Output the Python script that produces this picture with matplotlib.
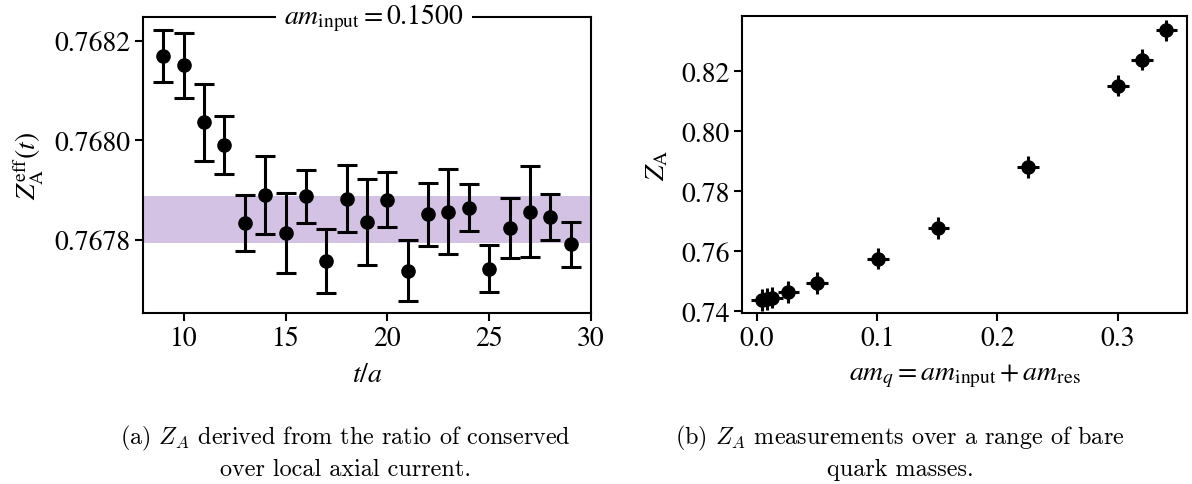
import numpy as np
import matplotlib
matplotlib.use("Agg")
from matplotlib import pyplot as plt

plt.rcParams['font.family'] = ['STIXGeneral', 'DejaVu Sans']
plt.rcParams['mathtext.fontset'] = 'stix'

# (a) effective Z_A vs t/a
t_vals = [9, 10, 11, 12, 13, 14, 15, 16, 17, 18, 19, 20, 21, 22, 23, 24, 25, 26, 27, 28, 29]
z_eff = [0.768169, 0.768151, 0.768036, 0.767991, 0.767834, 0.767890, 0.767814,
         0.767888, 0.767757, 0.767883, 0.767836, 0.767881, 0.767738, 0.767851,
         0.767857, 0.767865, 0.767742, 0.767824, 0.767857, 0.767846, 0.767791]
z_eff_err = [0.0000520, 0.0000657, 0.0000771, 0.0000579, 0.0000556, 0.0000785,
             0.0000801, 0.0000532, 0.0000646, 0.0000673, 0.0000859, 0.0000545,
             0.0000613, 0.0000636, 0.0000862, 0.0000478, 0.0000475, 0.0000609,
             0.0000912, 0.0000468, 0.0000448]
fit_band = (0.767794, 0.767889)

# (b) Z_A vs quark mass
am_q = [0.004, 0.0085, 0.0125, 0.026, 0.05, 0.1006, 0.151, 0.2256, 0.3003, 0.3203, 0.3406]
z_a = [0.7438, 0.7442, 0.7446, 0.74637, 0.74950, 0.75754, 0.76782, 0.78804,
       0.81520, 0.82391, 0.83363]
am_q_err = 0.0089
z_a_err = 0.0036

fig = plt.figure(figsize=(11.92, 4.85), dpi=100)
ax1 = fig.add_axes([0.120, 0.3526, 0.3758, 0.6103])
ax2 = fig.add_axes([0.6225, 0.3526, 0.3733, 0.6124])

ax1.axhspan(fit_band[0], fit_band[1], color='tab:purple', alpha=0.4, lw=0)
ax1.errorbar(t_vals, z_eff, yerr=z_eff_err, fmt='o', color='k', ms=9.5,
             elinewidth=2.2, capsize=7, capthick=2.2)
ax1.set_xlim(8, 30)
ax1.set_ylim(0.767653, 0.768248)
ax1.set_xticks([10, 15, 20, 25, 30])
ax1.set_yticks([0.7678, 0.7680, 0.7682])
ax1.set_yticklabels(['0.7678', '0.7680', '0.7682'])
ax1.set_xlabel('$t/a$', fontsize=20, labelpad=8)
ax1.set_ylabel(r'$Z_\mathrm{A}^\mathrm{eff}(t)$', fontsize=20, labelpad=6)
ax1.text(0.515, 1.0, r'$am_\mathrm{input} = 0.1500$', transform=ax1.transAxes,
         ha='center', va='center', fontsize=20,
         bbox=dict(fc='white', ec='none', pad=6))

ax2.errorbar(am_q, z_a, xerr=am_q_err, yerr=z_a_err, fmt='o', color='k', ms=9.5,
             elinewidth=2.2, capsize=0)
ax2.set_xlim(-0.0125, 0.3578)
ax2.set_ylim(0.73944, 0.83844)
ax2.set_xticks([0.0, 0.1, 0.2, 0.3])
ax2.set_yticks([0.74, 0.76, 0.78, 0.80, 0.82])
ax2.set_xlabel(r'$am_q = am_\mathrm{input} + am_\mathrm{res}$', fontsize=20, labelpad=8)
ax2.set_ylabel(r'$Z_\mathrm{A}$', fontsize=20, labelpad=8)

for ax in (ax1, ax2):
    ax.tick_params(labelsize=20, width=1.5, length=5.5)
    for s in ax.spines.values():
        s.set_linewidth(1.5)

fig.text(0.290, 0.068, "(a) $Z_A$ derived from the ratio of conserved\nover local axial current.",
         ha='center', va='center', fontsize=17.4, family='cmr10', math_fontfamily='cm',
         linespacing=1.35)
fig.text(0.755, 0.068, "(b) $Z_A$ measurements over a range of bare\nquark masses.",
         ha='center', va='center', fontsize=17.4, family='cmr10', math_fontfamily='cm',
         linespacing=1.35)

fig.savefig('out.png', dpi=100)
